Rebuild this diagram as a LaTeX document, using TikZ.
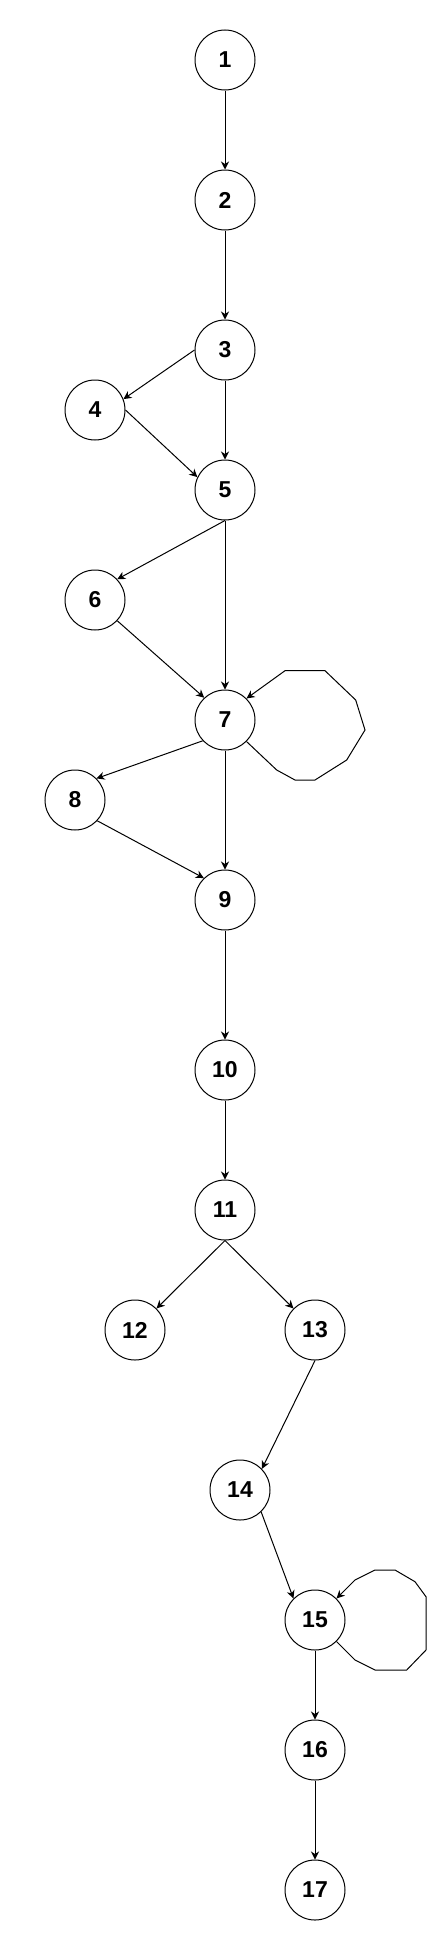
\documentclass[tikz,border=0pt]{standalone}
\usepackage{fontspec}
\setmainfont{Liberation Sans}
\usetikzlibrary{arrows.meta}
\begin{document}
\begin{tikzpicture}[x=1pt,y=-1pt,
  vtx/.style={circle,draw,line width=1pt,minimum size=60pt,inner sep=0pt,
    font=\fontsize{23}{26}\selectfont\bfseries},
  edge/.style={line width=1pt,-{Stealth[length=8pt,width=8pt,inset=2.5pt]}}]
\useasboundingbox (0,0) rectangle (435,1951);
\node[vtx] (n1) at (225,60) {1};
\node[vtx] (n2) at (225,200) {2};
\node[vtx] (n3) at (225,350) {3};
\node[vtx] (n4) at (95,410) {4};
\node[vtx] (n5) at (225,490) {5};
\node[vtx] (n6) at (95,600) {6};
\node[vtx] (n7) at (225,720) {7};
\node[vtx] (n8) at (75,800) {8};
\node[vtx] (n9) at (225,900) {9};
\node[vtx] (n10) at (225,1070) {10};
\node[vtx] (n11) at (225,1210) {11};
\node[vtx] (n12) at (135,1330) {12};
\node[vtx] (n13) at (315,1330) {13};
\node[vtx] (n14) at (240,1490) {14};
\node[vtx] (n15) at (315,1620) {15};
\node[vtx] (n16) at (315,1750) {16};
\node[vtx] (n17) at (315,1890) {17};
\draw[edge] (n1) -- (n2);
\draw[edge] (n2) -- (n3);
\draw[edge] (n3.west) -- (n4.21);
\draw[edge] (n3) -- (n5);
\draw[edge] (n4.east) -- (n5.155);
\draw[edge] (n5.south) -- (n6.43);
\draw[edge] (n5) -- (n7);
\draw[edge] (n6.-43) -- (n7.133);
\draw[edge] (n7.-45) -- (276.7,770) -- (295,780) -- (315,780) -- (346.7,760) -- (365,730) -- (355.7,700) -- (325,670.7) -- (285,670.7) -- (n7.45);
\draw[edge] (n7.223) -- (n8.45);
\draw[edge] (n7) -- (n9);
\draw[edge] (n8.-43) -- (n9.134);
\draw[edge] (n9) -- (n10);
\draw[edge] (n10) -- (n11);
\draw[edge] (n11.south) -- (n12.45);
\draw[edge] (n11.south) -- (n13.135);
\draw[edge] (n13.south) -- (n14.44);
\draw[edge] (n14.-46) -- (n15.135);
\draw[edge] (n15.-45) -- (355,1660) -- (375,1670) -- (406.7,1670) -- (426,1650) -- (426,1596.7) -- (415,1581.7) -- (395,1570) -- (375,1570) -- (355,1580) -- (n15.45);
\draw[edge] (n15) -- (n16);
\draw[edge] (n16) -- (n17);
\end{tikzpicture}
\end{document}
